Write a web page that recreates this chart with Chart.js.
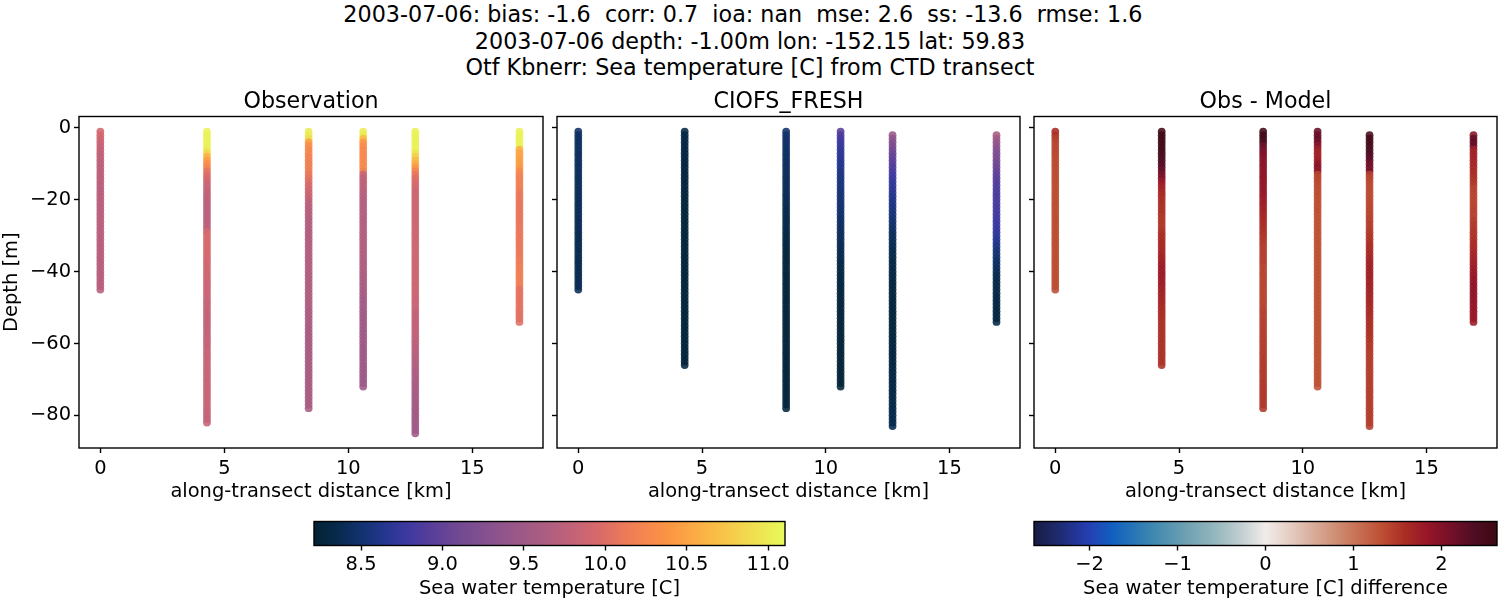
<!DOCTYPE html>
<html>
<head>
<meta charset="utf-8">
<title>CTD transect</title>
<script src="https://cdn.jsdelivr.net/npm/chart.js@4/dist/chart.umd.min.js"></script>
<style>
  body { margin: 0; background: #fff; width: 1500px; height: 600px; overflow: hidden; position: relative; }
  canvas { position: absolute; left: 0; top: 0; }
  #suptitle { position: absolute; left: 0; top: 0; width: 1500px; text-align: center; color: #000;
    font: 22.25px/26.6px "DejaVu Sans"; white-space: pre; padding-top: 1px; }
</style>
</head>
<body>
<div id="suptitle">2003-07-06: bias: -1.6  corr: 0.7  ioa: nan  mse: 2.6  ss: -13.6  rmse: 1.6  
2003-07-06 depth: -1.00m lon: -152.15 lat: 59.83
Otf Kbnerr: Sea temperature [C] from CTD transect</div>
<canvas id="c1" width="1500" height="600"></canvas>
<canvas id="c2" width="1500" height="600"></canvas>
<canvas id="c3" width="1500" height="600"></canvas>
<canvas id="c4" width="1500" height="600"></canvas>
<canvas id="c5" width="1500" height="600"></canvas>
<script>
const stationKm = [0, 4.3, 8.4, 10.6, 12.7, 16.9];
const depthLevels = [
  -1,-2,-3,-4,-5,-6,-7,-8,-9,-10,-11,-12,-13,-14,-15,-16,-17,-18,-19,-20,
  -21,-22,-23,-24,-25,-26,-27,-28,-29,-30,-31,-32,-33,-34,-35,-36,-37,-38,-39,-40,
  -41,-42,-43,-44,-45,-46,-47,-48,-49,-50,-51,-52,-53,-54,-55,-56,-57,-58,-59,-60,
  -61,-62,-63,-64,-65,-66,-67,-68,-69,-70,-71,-72,-73,-74,-75,-76,-77,-78,-79,-80,
  -81,-82,-83,-84,-85];
const xTicks = [0, 5, 10, 15];
const yTicks = [0, -20, -40, -60, -80];
const tempTicks = [8.5, 9, 9.5, 10, 10.5, 11];
const diffTicks = [-2, -1, 0, 1, 2];

// observed temperature, one value per metre from the surface down
const obs1 = [9.92,9.92,9.88,9.85,9.83,9.81,9.8,9.78,9.77,9.76,
  9.76,9.75,9.75,9.74,9.74,9.73,9.73,9.73,9.73,9.73,
  9.73,9.73,9.73,9.73,9.73,9.73,9.73,9.73,9.73,9.73,
  9.71,9.71,9.71,9.71,9.71,9.71,9.71,9.71,9.71,9.71,
  9.71,9.71,9.71,9.71,9.71];
const obs2 = [11.05,11.05,11.05,11.05,11.05,11.0,10.85,10.6,10.45,10.3,
  10.25,10.05,10.0,9.95,9.9,9.85,9.82,9.8,9.78,9.76,
  9.74,9.73,9.73,9.73,9.73,9.74,9.75,9.76,9.92,9.94,
  9.95,9.95,9.94,9.94,9.94,9.92,9.92,9.9,9.89,9.89,
  9.89,9.87,9.87,9.85,9.85,9.85,9.85,9.83,9.83,9.83,
  9.82,9.82,9.8,9.8,9.8,9.8,9.8,9.8,9.82,9.82,
  9.82,9.84,9.84,9.84,9.84,9.84,9.84,9.84,9.84,9.84,
  9.84,9.84,9.84,9.84,9.84,9.84,9.84,9.84,9.82,9.82,
  9.82,9.82];
const obs3 = [11.0,11.0,10.9,10.45,10.3,10.25,10.25,10.2,10.2,10.18,
  10.18,10.15,10.1,10.05,10.0,9.95,9.92,9.88,9.84,9.8,
  9.75,9.72,9.7,9.7,9.69,9.69,9.69,9.69,9.67,9.67,
  9.67,9.67,9.67,9.67,9.67,9.67,9.67,9.67,9.67,9.67,
  9.65,9.65,9.65,9.65,9.65,9.65,9.65,9.65,9.65,9.65,
  9.62,9.62,9.62,9.62,9.6,9.6,9.6,9.6,9.59,9.59,
  9.59,9.59,9.59,9.59,9.59,9.59,9.59,9.59,9.59,9.59,
  9.59,9.59,9.59,9.59,9.59,9.59,9.59,9.59];
const obs4 = [11.0,11.0,10.65,10.4,10.3,10.25,10.25,10.25,10.25,10.28,
  10.28,10.2,9.82,9.8,9.78,9.76,9.74,9.72,9.7,9.68,
  9.68,9.68,9.68,9.68,9.68,9.68,9.68,9.68,9.68,9.68,
  9.68,9.66,9.66,9.66,9.66,9.66,9.64,9.64,9.64,9.64,
  9.62,9.62,9.62,9.6,9.6,9.58,9.58,9.56,9.56,9.55,
  9.55,9.53,9.53,9.53,9.52,9.52,9.52,9.52,9.52,9.52,
  9.5,9.5,9.5,9.5,9.5,9.5,9.5,9.49,9.49,9.49,
  9.49,9.49];
const obs5 = [11.05,11.05,11.05,11.05,11.05,11.05,10.95,10.8,10.65,10.55,
  10.4,10.2,10.1,10.02,9.98,9.94,9.9,9.87,9.87,9.86,
  9.87,9.87,9.87,9.87,9.88,9.88,9.88,9.88,9.88,9.88,
  9.88,9.88,9.88,9.88,9.88,9.87,9.87,9.87,9.87,9.87,
  9.87,9.87,9.87,9.87,9.87,9.87,9.85,9.85,9.85,9.85,
  9.82,9.82,9.8,9.8,9.79,9.79,9.79,9.78,9.78,9.76,
  9.74,9.74,9.72,9.7,9.69,9.67,9.65,9.64,9.62,9.62,
  9.6,9.6,9.58,9.58,9.57,9.56,9.55,9.54,9.54,9.54,
  9.52,9.52,9.52,9.51,9.51];
const obs6 = [11.05,11.05,11.05,11.05,11.05,10.6,10.5,10.5,10.45,10.45,
  10.42,10.3,10.22,10.2,10.2,10.18,10.18,10.12,10.1,10.1,
  10.08,10.08,10.08,10.08,10.08,10.08,10.08,10.1,10.1,10.1,
  10.1,10.1,10.1,10.1,10.12,10.12,10.14,10.14,10.16,10.16,
  10.18,10.18,10.18,10.16,10.05,10.05,10.05,10.05,10.05,10.05,
  10.04,10.04,10.02,10.02];

// model temperature; stations 5 and 6 start at the second level
const modelStart = [0, 0, 0, 0, 1, 1];
const model1 = [8.46,8.45,8.45,8.44,8.44,8.44,8.43,8.43,8.43,8.42,
  8.42,8.42,8.42,8.41,8.41,8.41,8.41,8.4,8.4,8.4,
  8.4,8.4,8.39,8.39,8.39,8.38,8.38,8.38,8.38,8.37,
  8.37,8.37,8.37,8.36,8.36,8.36,8.36,8.36,8.37,8.37,
  8.37,8.37,8.38,8.38,8.38];
const model2 = [8.32,8.32,8.31,8.31,8.3,8.3,8.3,8.3,8.29,8.29,
  8.29,8.29,8.28,8.28,8.28,8.28,8.27,8.27,8.27,8.27,
  8.27,8.27,8.27,8.27,8.26,8.26,8.26,8.26,8.26,8.26,
  8.26,8.26,8.26,8.26,8.26,8.25,8.25,8.25,8.25,8.25,
  8.25,8.25,8.25,8.25,8.25,8.25,8.25,8.25,8.25,8.25,
  8.25,8.25,8.25,8.25,8.25,8.25,8.25,8.25,8.25,8.25,
  8.25,8.25,8.25,8.25,8.25,8.25];
const model3 = [8.48,8.48,8.47,8.47,8.46,8.45,8.45,8.44,8.44,8.43,
  8.43,8.42,8.42,8.41,8.41,8.4,8.4,8.39,8.39,8.38,
  8.38,8.37,8.36,8.35,8.35,8.34,8.33,8.32,8.32,8.31,
  8.3,8.3,8.29,8.28,8.28,8.27,8.27,8.26,8.26,8.26,
  8.25,8.25,8.25,8.25,8.25,8.25,8.25,8.25,8.25,8.25,
  8.25,8.25,8.25,8.25,8.25,8.25,8.25,8.25,8.25,8.25,
  8.25,8.25,8.25,8.25,8.25,8.25,8.25,8.25,8.25,8.25,
  8.25,8.25,8.25,8.25,8.25,8.25,8.25,8.25];
const model4 = [8.92,8.88,8.82,8.78,8.75,8.72,8.7,8.68,8.66,8.64,
  8.63,8.62,8.6,8.58,8.57,8.56,8.55,8.54,8.53,8.52,
  8.51,8.5,8.49,8.48,8.46,8.45,8.44,8.43,8.42,8.41,
  8.4,8.39,8.38,8.37,8.36,8.35,8.34,8.33,8.32,8.31,
  8.3,8.3,8.29,8.29,8.28,8.28,8.27,8.27,8.27,8.26,
  8.26,8.26,8.26,8.26,8.25,8.25,8.25,8.25,8.25,8.25,
  8.25,8.25,8.25,8.25,8.25,8.25,8.25,8.25,8.25,8.25,
  8.25,8.25];
const model5 = [9.45,9.35,9.25,9.18,9.12,9.06,9.02,8.98,8.94,8.9,
  8.86,8.82,8.78,8.75,8.72,8.7,8.67,8.65,8.62,8.6,
  8.58,8.56,8.54,8.52,8.5,8.48,8.46,8.44,8.42,8.4,
  8.39,8.38,8.36,8.35,8.34,8.33,8.32,8.31,8.3,8.3,
  8.29,8.28,8.28,8.27,8.27,8.26,8.26,8.26,8.26,8.26,
  8.26,8.26,8.26,8.26,8.26,8.26,8.26,8.26,8.27,8.27,
  8.27,8.27,8.28,8.28,8.28,8.29,8.29,8.3,8.3,8.3,
  8.31,8.31,8.32,8.32,8.33,8.33,8.34,8.34,8.35,8.35,
  8.36,8.36];
const model6 = [9.6,9.52,9.42,9.35,9.28,9.22,9.18,9.14,9.1,9.06,
  9.02,8.98,8.95,8.92,8.9,8.88,8.87,8.86,8.85,8.85,
  8.84,8.83,8.82,8.8,8.79,8.78,8.76,8.74,8.72,8.68,
  8.64,8.6,8.56,8.52,8.5,8.47,8.44,8.42,8.4,8.38,
  8.36,8.35,8.34,8.33,8.33,8.32,8.32,8.31,8.31,8.3,
  8.3,8.3,8.3];

// obs minus model
const diff1 = [1.6,1.55,1.45,1.42,1.4,1.38,1.38,1.36,1.36,1.35,
  1.35,1.35,1.34,1.34,1.34,1.34,1.34,1.34,1.34,1.34,
  1.34,1.34,1.34,1.34,1.34,1.34,1.34,1.34,1.34,1.34,
  1.34,1.34,1.34,1.34,1.34,1.34,1.34,1.34,1.34,1.34,
  1.34,1.34,1.34,1.34,1.34];
const diff2 = [2.55,2.55,2.55,2.55,2.55,2.55,2.5,2.45,2.4,2.35,
  2.25,2.2,2.1,2.0,1.85,1.75,1.7,1.65,1.62,1.58,
  1.56,1.55,1.55,1.55,1.5,1.5,1.5,1.5,1.55,1.58,
  1.6,1.62,1.62,1.62,1.65,1.7,1.72,1.75,1.78,1.78,
  1.78,1.78,1.76,1.75,1.72,1.7,1.68,1.66,1.65,1.62,
  1.6,1.58,1.58,1.56,1.55,1.55,1.55,1.55,1.55,1.55,
  1.55,1.55,1.55,1.55,1.55,1.55];
const diff3 = [2.55,2.55,2.55,2.45,2.2,2.1,2.05,2.0,1.95,1.95,
  1.92,1.9,1.9,1.9,1.88,1.88,1.86,1.85,1.82,1.78,
  1.75,1.72,1.7,1.68,1.65,1.62,1.6,1.58,1.55,1.52,
  1.5,1.48,1.46,1.45,1.45,1.44,1.44,1.42,1.4,1.4,
  1.4,1.4,1.4,1.4,1.4,1.4,1.4,1.4,1.4,1.4,
  1.42,1.42,1.42,1.44,1.44,1.44,1.45,1.45,1.45,1.45,
  1.46,1.46,1.46,1.47,1.47,1.48,1.48,1.48,1.48,1.48,
  1.5,1.5,1.5,1.5,1.5,1.5,1.5,1.5];
const diff4 = [2.2,2.15,2.2,2.1,1.95,1.75,1.72,1.7,1.75,1.88,
  1.95,1.9,1.42,1.4,1.38,1.36,1.35,1.34,1.34,1.32,
  1.32,1.32,1.32,1.32,1.3,1.3,1.3,1.3,1.3,1.3,
  1.3,1.3,1.3,1.3,1.3,1.3,1.3,1.3,1.3,1.3,
  1.3,1.3,1.3,1.3,1.3,1.3,1.3,1.3,1.3,1.3,
  1.3,1.3,1.3,1.3,1.3,1.3,1.3,1.3,1.3,1.3,
  1.3,1.3,1.3,1.3,1.3,1.3,1.3,1.3,1.3,1.3,
  1.3,1.3];
const diff5 = [2.5,2.5,2.5,2.48,2.45,2.4,2.35,2.25,2.15,2.1,
  2.05,1.45,1.4,1.38,1.36,1.36,1.35,1.35,1.36,1.38,
  1.38,1.4,1.4,1.42,1.42,1.44,1.46,1.48,1.5,1.52,
  1.55,1.58,1.6,1.62,1.65,1.68,1.7,1.72,1.72,1.72,
  1.72,1.7,1.7,1.68,1.68,1.66,1.65,1.65,1.62,1.6,
  1.6,1.58,1.56,1.56,1.55,1.55,1.55,1.52,1.5,1.48,
  1.48,1.46,1.46,1.45,1.45,1.45,1.45,1.45,1.45,1.45,
  1.45,1.45,1.45,1.45,1.45,1.45,1.45,1.45,1.45,1.45,
  1.45,1.45];
const diff6 = [1.95,2.2,2.25,2.2,1.75,1.72,1.7,1.68,1.65,1.62,
  1.6,1.58,1.55,1.52,1.48,1.42,1.42,1.4,1.4,1.38,
  1.4,1.42,1.42,1.42,1.45,1.48,1.5,1.52,1.52,1.55,
  1.58,1.6,1.62,1.65,1.68,1.7,1.72,1.78,1.8,1.82,
  1.85,1.85,1.88,1.88,1.88,1.88,1.88,1.85,1.85,1.85,
  1.82,1.82,1.8];

const obsSeries = [obs1, obs2, obs3, obs4, obs5, obs6];
const modelSeries = [model1, model2, model3, model4, model5, model6];
const diffSeries = [diff1, diff2, diff3, diff4, diff5, diff6];

const tempRange = [8.211, 11.104];
const diffRange = [-2.63, 2.63];

const thermalStops = [[0,'#032333'],[.05,'#072a4d'],[.1,'#12326f'],[.15,'#24368f'],[.2,'#3e39a0'],[.25,'#583f9a'],
  [.3,'#6f4893'],[.4,'#90558c'],[.5,'#b05e80'],[.55,'#c36278'],[.6,'#d6696b'],[.65,'#e9775b'],[.7,'#f58650'],
  [.75,'#fb9443'],[.8,'#fca845'],[.85,'#f9bc46'],[.9,'#f5d14d'],[.95,'#eee653'],[1,'#e8fa5b']];
const balanceStops = [[0,'#181c43'],[.05,'#1e2a6c'],[.1,'#2438a0'],[.125,'#2443b5'],[.17,'#1060c0'],[.25,'#3a85b0'],
  [.33,'#6fa1b2'],[.4,'#9bbac0'],[.45,'#c4d0d3'],[.5,'#f1ecea'],[.55,'#e6cfc5'],[.6,'#d9ae9d'],[.65,'#cf9076'],
  [.7,'#c76f53'],[.75,'#bd5034'],[.8,'#aa2d24'],[.85,'#961628'],[.9,'#741029'],[.95,'#4f0d23'],[1,'#3c0912']];

const FONT = 'DejaVu Sans';
Chart.defaults.font.family = FONT;
Chart.defaults.color = '#000';
Chart.defaults.animation = false;
Chart.defaults.devicePixelRatio = 1;

function hexRgb(h) {
  return [parseInt(h.slice(1,3),16), parseInt(h.slice(3,5),16), parseInt(h.slice(5,7),16)];
}
function cmap(stops, t, alpha) {
  t = Math.max(0, Math.min(1, t));
  let i = 0;
  while (i < stops.length - 2 && t > stops[i+1][0]) i++;
  const a = stops[i], b = stops[i+1];
  const f = (t - a[0]) / (b[0] - a[0]);
  const ca = hexRgb(a[1]), cb = hexRgb(b[1]);
  const c = ca.map((v, k) => Math.round(v + (cb[k] - v) * f));
  return `rgba(${c[0]},${c[1]},${c[2]},${alpha})`;
}

const framePlugin = {
  id: 'frame',
  afterDraw(chart) {
    const a = chart.chartArea, ctx = chart.ctx;
    ctx.save();
    ctx.strokeStyle = '#000';
    ctx.lineWidth = 1.4;
    ctx.strokeRect(a.left, a.top, a.right - a.left, a.bottom - a.top);
    ctx.restore();
  }
};

function minus(v) { return String(v).replace('-', '\u2212'); }

function panel(id, title, series, starts, stops, range, left, right, showY) {
  const datasets = series.map((vals, s) => ({
    data: vals.map((v, i) => ({ x: stationKm[s], y: depthLevels[i + starts[s]], v: v })),
    showLine: false,
    pointRadius: 3.9,
    pointBorderWidth: 0,
    pointBackgroundColor: c => cmap(stops, (c.raw.v - range[0]) / (range[1] - range[0]), 0.88)
  }));
  new Chart(document.getElementById(id), {
    type: 'scatter',
    data: { datasets },
    plugins: [framePlugin],
    options: {
      responsive: false,
      layout: { autoPadding: false, padding: { left: left - 79, right: 1500 - right, top: 91.3, bottom: 96 } },
      plugins: {
        legend: { display: false },
        tooltip: { enabled: false },
        title: { display: true, text: title, fullSize: false, color: '#000',
          font: { size: 22.2, weight: 'normal', lineHeight: 1 }, padding: { top: 0, bottom: 3 } }
      },
      scales: {
        x: {
          type: 'linear', min: -0.86, max: 17.85,
          afterBuildTicks: s => { s.ticks = xTicks.map(v => ({ value: v })); },
          afterFit: s => { s.height = 56; },
          grid: { drawOnChartArea: false, tickLength: 5, tickColor: '#000', tickWidth: 1.4 },
          border: { display: false },
          ticks: { font: { size: 19.45 }, color: '#000', maxRotation: 0, padding: 4, callback: v => minus(v) },
          title: { display: true, text: 'along-transect distance [km]', font: { size: 19.45 }, color: '#000', padding: 0 }
        },
        y: {
          type: 'linear', min: -89.1, max: 3.2,
          afterBuildTicks: s => { s.ticks = yTicks.map(v => ({ value: v })); },
          afterFit: s => { s.width = 79; },
          grid: { drawOnChartArea: false, tickLength: 5, tickColor: '#000', tickWidth: 1.4 },
          border: { display: false },
          ticks: { font: { size: 19.45 }, color: '#000', padding: 3, callback: v => showY ? minus(v) : '' },
          title: { display: showY, text: 'Depth [m]', font: { size: 19.45 }, color: '#000', padding: 0 }
        }
      }
    }
  });
}

function colorbar(id, label, stops, range, ticks, left, right, fmt) {
  new Chart(document.getElementById(id), {
    type: 'bar',
    data: {
      labels: [''],
      datasets: [{
        data: [range],
        barPercentage: 1,
        categoryPercentage: 1,
        borderWidth: 0,
        backgroundColor: c => {
          const a = c.chart.chartArea;
          if (!a) return '#000';
          const g = c.chart.ctx.createLinearGradient(a.left, 0, a.right, 0);
          stops.forEach(p => g.addColorStop(p[0], p[1]));
          return g;
        }
      }]
    },
    plugins: [framePlugin],
    options: {
      indexAxis: 'y',
      responsive: false,
      layout: { autoPadding: false, padding: { left: left, right: 1500 - right, top: 521.5, bottom: -1 } },
      plugins: { legend: { display: false }, tooltip: { enabled: false } },
      scales: {
        x: {
          type: 'linear', min: range[0], max: range[1],
          afterBuildTicks: s => { s.ticks = ticks.map(v => ({ value: v })); },
          afterFit: s => { s.height = 55.5; },
          grid: { drawOnChartArea: false, tickLength: 5, tickColor: '#000', tickWidth: 1.4 },
          border: { display: false },
          ticks: { font: { size: 19.45 }, color: '#000', maxRotation: 0, padding: 3, callback: fmt },
          title: { display: true, text: label, font: { size: 19.45 }, color: '#000', padding: 0 }
        },
        y: { display: false }
      }
    }
  });
}

panel('c1', 'Observation', obsSeries, [0,0,0,0,0,0], thermalStops, tempRange, 79, 543, true);
panel('c2', 'CIOFS_FRESH', modelSeries, modelStart, thermalStops, tempRange, 557, 1020, false);
panel('c3', 'Obs - Model', diffSeries, modelStart, balanceStops, diffRange, 1034, 1497, false);
colorbar('c4', 'Sea water temperature [C]', thermalStops, tempRange, tempTicks, 314, 785, v => v.toFixed(1));
colorbar('c5', 'Sea water temperature [C] difference', balanceStops, diffRange, diffTicks, 1034, 1497, v => minus(v));
</script>
</body>
</html>
